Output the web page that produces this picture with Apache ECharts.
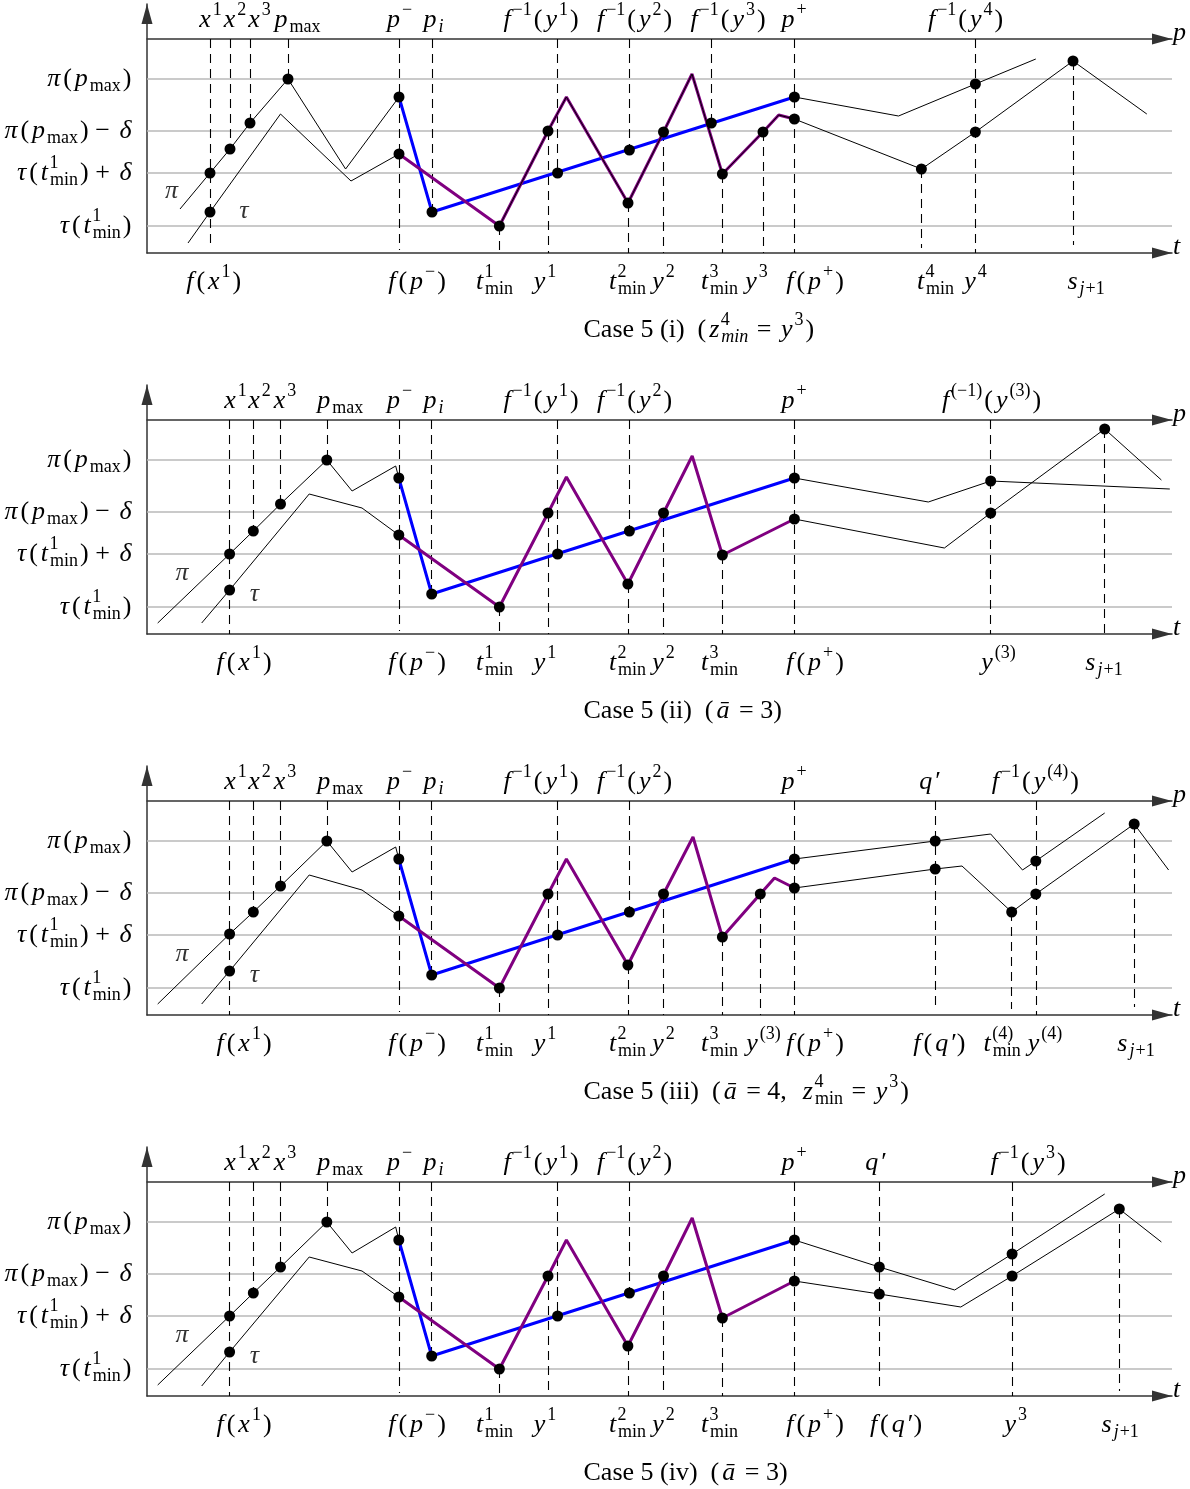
<!DOCTYPE html>
<html><head><meta charset="utf-8">
<script src="https://cdn.jsdelivr.net/npm/echarts@6/dist/echarts.min.js"></script>
<style>html,body{margin:0;padding:0;background:#fff}#c{width:1190px;height:1489px}</style>
</head><body><div id="c"></div>
<script>
// ---------- shared levels (height above the t axis) ----------
const levelValues = [27, 80, 122, 174];
const levelLabels = ['τ(t^{1}_{min})', 'τ(t^{1}_{min}) + δ', 'π(p_{max}) − δ', 'π(p_{max})'];
const pAxisLevel = 214;

// ---------- Case 5 (i) ----------
const piA1 = [[180,44],[210,80],[230,104],[250,130],[288,174],[345.6,84],[399,156]];
const blue1 = [[399,156],[432,41],[794.4,156]];
const piB1 = [[794.4,156],[898.5,137],[975.4,169],[1035.8,194]];
const tauA1 = [[188,10],[210,41],[280.5,139],[351,72],[399,99]];
const purple1 = [[399,99],[499.4,27],[548,122],[566.4,156],[628,50],[663.5,121],[692,179],[722.4,79],[763,121],[778.7,138],[794.4,134]];
const tauB1 = [[794.4,134],[921.4,84],[975.4,121],[1073,192],[1146.8,139]];
const dots1 = [[210,80],[230,104],[250,130],[288,174],[399,156],[794.4,156],[975.4,169],
  [210,41],[399,99],[499.4,27],[548,122],[628,50],[663.5,121],[722.4,79],[763,121],[794.4,134],[921.4,84],[975.4,121],[1073,192],
  [432,41],[557.6,80],[629.4,103],[711.3,130]];
const dash1 = [[210,214,8],[230,214,104],[250,214,130],[288,214,174],[399,214,3],[432,214,41],[499.4,27,0],[548,122,0],[557.6,214,80],[629.4,214,103],[628,50,0],[663.5,121,0],[711.3,214,130],[722.4,79,0],[763,121,0],[794.4,214,0],[921.4,84,5],[975.4,214,0],[1073,192,8]];
const topLab1 = ['x^{1}','x^{2}','x^{3}','p_{max}','p^{−}','p_{i}','f^{−1}(y^{1})','f^{−1}(y^{2})','f^{−1}(y^{3})','p^{+}','f^{−1}(y^{4})'];
const topPos1 = [210,234.5,259,297,399,433,541,634.6,728,793.5,965.6];
const botLab1 = ['f(x^{1})','f(p^{−})','t^{1}_{min}','y^{1}','t^{2}_{min}','y^{2}','t^{3}_{min}','y^{3}','f(p^{+})','t^{4}_{min}','y^{4}','s_{j+1}'];
const botPos1 = [213.7,417,494,544.4,627,663,719,756,815,935,975,1085.6];
const names1 = [['π',171.5,62],['τ',244,42]];
const caption1 = '{r|Case 5 (i)  (}{i|z}{supz|4}{subi|min}{r| = }{i|y}{sup|3}{r|)}';

// ---------- Case 5 (ii) ----------
const piA2 = [[157.7,11],[229.6,80],[253.3,103],[280.5,130],[326.8,174],[352.1,143],[395.7,168],[398.8,156]];
const blue2 = [[398.8,156],[431.7,40],[794.4,156]];
const piB2 = [[794.4,156],[928.3,132],[990.7,153],[1169.8,145]];
const tauA2 = [[201.7,11],[229.6,44],[309.2,140],[362,126],[398.8,99]];
const purple2 = [[398.8,99],[499.4,27],[548,121],[566.4,157],[627.9,50],[663.5,121],[692.2,178],[722.4,79],[794.4,115]];
const tauB2 = [[794.4,115],[944.4,86],[990.7,121],[1104.7,205],[1161.4,154]];
const dots2 = [[229.6,80],[253.3,103],[280.5,130],[326.8,174],[398.8,156],[794.4,156],[990.7,153],
  [229.6,44],[398.8,99],[499.4,27],[548,121],[627.9,50],[663.5,121],[722.4,79],[794.4,115],[990.7,121],[1104.7,205],
  [431.7,40],[557.6,80],[629.4,103]];
const dash2 = [[229.6,214,0],[253.3,214,103],[280.5,214,130],[326.8,214,174],[398.8,214,3],[431.7,214,40],[499.4,27,0],[548,121,0],[557.6,214,80],[629.4,214,103],[627.9,50,0],[663.5,121,0],[722.4,79,0],[794.4,214,0],[990.7,214,0],[1104.7,205,0]];
const topLab2 = ['x^{1}','x^{2}','x^{3}','p_{max}','p^{−}','p_{i}','f^{−1}(y^{1})','f^{−1}(y^{2})','p^{+}','f^{(−1)}(y^{(3)})'];
const topPos2 = [235,259,284.6,339.7,399,433,541,634.6,793.5,991.5];
const botLab2 = ['f(x^{1})','f(p^{−})','t^{1}_{min}','y^{1}','t^{2}_{min}','y^{2}','t^{3}_{min}','f(p^{+})','y^{(3)}','s_{j+1}'];
const botPos2 = [244,417,494,544.4,627,663,719,815,998,1103.5];
const names2 = [['π',182,61],['τ',254.5,40]];
const caption2 = '{r|Case 5 (ii)  (}{i|ā}{r| = 3)}';

// ---------- Case 5 (iii) ----------
const piA3 = [[157.7,11],[229.6,81],[253.3,103],[280.5,129],[326.8,174],[352.1,143],[395.7,168],[398.8,156]];
const blue3 = [[398.8,156],[431.7,40],[794.4,156]];
const piB3 = [[794.4,156],[935.2,174],[990.7,181],[1022.5,145],[1035.8,154],[1104.7,202]];
const tauA3 = [[201.7,11],[229.6,44],[309.2,140],[362,125],[398.8,99]];
const purple3 = [[398.8,99],[499.4,27],[548,121],[566.4,156],[627.9,50],[663.5,121],[693,178],[722.4,78],[760.3,121],[774.5,137],[794.4,127]];
const tauB3 = [[794.4,127],[935.2,146],[962,149],[1011.7,103],[1035.8,121],[1134.2,191],[1168.6,145]];
const dots3 = [[229.6,81],[253.3,103],[280.5,129],[326.8,174],[398.8,156],[794.4,156],[935.2,174],[1035.8,154],
  [229.6,44],[398.8,99],[499.4,27],[548,121],[627.9,50],[663.5,121],[722.4,78],[760.3,121],[794.4,127],[935.2,146],[1011.7,103],[1035.8,121],[1134.2,191],
  [431.7,40],[557.6,80],[629.4,103]];
const dash3 = [[229.6,214,0],[253.3,214,103],[280.5,214,129],[326.8,214,174],[398.8,214,3],[431.7,214,40],[499.4,27,0],[548,121,0],[557.6,214,80],[629.4,214,103],[627.9,50,0],[663.5,121,0],[722.4,78,0],[760.3,121,0],[794.4,214,0],[935.2,214,6],[1011.7,103,6],[1035.8,214,0],[1134.2,191,8]];
const topLab3 = ['x^{1}','x^{2}','x^{3}','p_{max}','p^{−}','p_{i}','f^{−1}(y^{1})','f^{−1}(y^{2})','p^{+}','q′','f^{−1}(y^{(4)})'];
const topPos3 = [235,259,284.6,339.7,399,433,541,634.6,793.5,930,1035.3];
const botLab3 = ['f(x^{1})','f(p^{−})','t^{1}_{min}','y^{1}','t^{2}_{min}','y^{2}','t^{3}_{min}','y^{(3)}','f(p^{+})','f(q′)','t^{(4)}_{min}','y^{(4)}','s_{j+1}'];
const botPos3 = [244,417,494,544.4,627,663,719,763,815,939.4,1001.7,1044.5,1135.5];
const names3 = [['π',182,61],['τ',254.5,40]];
const caption3 = '{r|Case 5 (iii)  (}{i|ā}{r| = 4,  }{i|z}{supz|4}{sub|min}{r| = }{i|y}{sup|3}{r|)}';

// ---------- Case 5 (iv) ----------
const piA4 = [[157.7,11],[229.6,80],[253.3,103],[280.5,129],[326.8,174],[352.1,143],[395.7,169],[398.8,156]];
const blue4 = [[398.8,156],[431.7,40],[794.4,156]];
const piB4 = [[794.4,156],[879.3,129],[954.7,106],[1012.1,142],[1104.7,202]];
const tauA4 = [[201.7,10],[229.6,44],[309.2,139],[362,125],[398.8,99]];
const purple4 = [[398.8,99],[499.4,27],[548,120],[566.4,156],[627.9,50],[663.5,120],[692.2,178],[722.4,78],[794.4,115]];
const tauB4 = [[794.4,115],[879.3,102],[960.8,89],[1012.1,120],[1119.3,187],[1161.4,154]];
const dots4 = [[229.6,80],[253.3,103],[280.5,129],[326.8,174],[398.8,156],[794.4,156],[879.3,129],[1012.1,142],
  [229.6,44],[398.8,99],[499.4,27],[548,120],[627.9,50],[663.5,120],[722.4,78],[794.4,115],[879.3,102],[1012.1,120],[1119.3,187],
  [431.7,40],[557.6,80],[629.4,103]];
const dash4 = [[229.6,214,0],[253.3,214,103],[280.5,214,129],[326.8,214,174],[398.8,214,3],[431.7,214,40],[499.4,27,0],[548,120,0],[557.6,214,80],[629.4,214,103],[627.9,50,0],[663.5,120,0],[722.4,78,0],[794.4,214,0],[879.3,214,5],[1012.1,214,0],[1119.3,187,5]];
const topLab4 = ['x^{1}','x^{2}','x^{3}','p_{max}','p^{−}','p_{i}','f^{−1}(y^{1})','f^{−1}(y^{2})','p^{+}','q′','f^{−1}(y^{3})'];
const topPos4 = [235,259,284.6,339.7,399,433,541,634.6,793.5,876,1028];
const botLab4 = ['f(x^{1})','f(p^{−})','t^{1}_{min}','y^{1}','t^{2}_{min}','y^{2}','t^{3}_{min}','f(p^{+})','f(q′)','y^{3}','s_{j+1}'];
const botPos4 = [244,417,494,544.4,627,663,719,815,896,1015.3,1119.7];
const names4 = [['π',182,61],['τ',254.5,40]];
const caption4 = '{r|Case 5 (iv)  (}{i|ā}{r| = 3)}';

// ---------- layout / style ----------
const panels = [
  {piA:piA1, blue:blue1, piB:piB1, tauA:tauA1, purple:purple1, tauB:tauB1, dots:dots1, dash:dash1, topLab:topLab1, topPos:topPos1, botLab:botLab1, botPos:botPos1, names:names1, caption:caption1, dark:true},
  {piA:piA2, blue:blue2, piB:piB2, tauA:tauA2, purple:purple2, tauB:tauB2, dots:dots2, dash:dash2, topLab:topLab2, topPos:topPos2, botLab:botLab2, botPos:botPos2, names:names2, caption:caption2, dark:false},
  {piA:piA3, blue:blue3, piB:piB3, tauA:tauA3, purple:purple3, tauB:tauB3, dots:dots3, dash:dash3, topLab:topLab3, topPos:topPos3, botLab:botLab3, botPos:botPos3, names:names3, caption:caption3, dark:false},
  {piA:piA4, blue:blue4, piB:piB4, tauA:tauA4, purple:purple4, tauB:tauB4, dots:dots4, dash:dash4, topLab:topLab4, topPos:topPos4, botLab:botLab4, botPos:botPos4, names:names4, caption:caption4, dark:false}
];
const panelBase = [253, 634, 1015, 1396];
const yMax = 249, xMin = 147, xMax = 1172;
const FONT = 'Liberation Serif';
const BIG = 26, SML = 18;
function tok(italic, size, extra) {
  return Object.assign({fontFamily: FONT, fontStyle: italic ? 'italic' : 'normal', fontWeight: 'normal',
    fontSize: size, color: '#000', align: 'left'}, extra || {});
}
const RICH = {
  i: tok(true, BIG, {padding: [0,1.5,0,1.5]}), r: tok(false, BIG, {padding: [0,1.5,0,1.5]}),
  sup: tok(false, SML, {padding: [0,0.5,19,0.5]}), supi: tok(true, SML, {padding: [0,0.5,19,0.5]}),
  supz: tok(false, SML, {padding: [0,0,19,0], width: 0}), supzi: tok(true, SML, {padding: [0,0,19,0], width: 0}),
  sub: tok(false, SML, {padding: [14,0.5,0,0.5]}), subi: tok(true, SML, {padding: [14,0.5,0,0.5]}),
  nm: tok(true, BIG, {padding: [0,0,12,0]})
};
const LETTER = /[A-Za-zα-ωπτδā]/;
function runs(text, it, ro, romanWords) {
  let res = '', k = 0;
  const isWord = j => romanWords && (text.startsWith('min', j) || text.startsWith('max', j));
  while (k < text.length) {
    if (isWord(k)) { res += '{' + ro + '|' + text.substr(k, 3) + '}'; k += 3; continue; }
    const st = LETTER.test(text[k]) ? it : ro;
    let j = k + 1;
    while (j < text.length && !isWord(j) && (LETTER.test(text[j]) ? it : ro) === st) j++;
    res += '{' + st + '|' + text.slice(k, j) + '}';
    k = j;
  }
  return res;
}
function M(s) {
  let out = '', buf = '', i = 0;
  const flush = () => { if (buf) { out += runs(buf, 'i', 'r', false); buf = ''; } };
  while (i < s.length) {
    const c = s[i];
    if ((c === '^' || c === '_') && s[i + 1] === '{') {
      flush();
      const end = s.indexOf('}', i);
      const content = s.slice(i + 2, end);
      i = end + 1;
      if (c === '^') out += (s[i] === '_') ? runs(content, 'supzi', 'supz', false) : runs(content, 'supi', 'sup', false);
      else out += runs(content, 'subi', 'sub', true);
      continue;
    }
    buf += c; i++;
  }
  flush();
  return out;
}
// tick label lookup; the axis ends carry empty sentinel labels
function pick(pos, labels, v) {
  if (v === xMin || v === xMax) return '';
  let b = 0;
  for (let j = 0; j < pos.length; j++) if (Math.abs(pos[j] - v) < Math.abs(pos[b] - v)) b = j;
  return M(labels[b]);
}
const axisLineStyle = {color: '#333', width: 1.5};
const arrow = {symbol: ['none', 'triangle'], symbolSize: [11, 20], symbolOffset: [0, -10]};
const nameStyle = {rich: RICH};
const labelBase = {rich: RICH, lineHeight: 40, color: '#000', showMinLabel: true, showMaxLabel: true, hideOverlap: false};

const grid = [], xAxis = [], yAxis = [], series = [], title = [];
panels.forEach((P, k) => {
  const T = panelBase[k];
  grid.push({left: xMin, width: xMax - xMin, top: T - yMax, height: yMax, outerBoundsMode: 'none'});
  xAxis.push({
    gridIndex: k, type: 'value', min: xMin, max: xMax, position: 'bottom',
    axisLine: Object.assign({show: true, onZero: false, lineStyle: axisLineStyle}, arrow),
    axisTick: {show: false}, splitLine: {show: false},
    name: '{nm|t}', nameLocation: 'end', nameGap: 1, nameTextStyle: nameStyle,
    axisLabel: Object.assign({customValues: [xMin].concat(P.botPos, [xMax]), formatter: v => pick(P.botPos, P.botLab, v), margin: 9}, labelBase)
  });
  xAxis.push({
    gridIndex: k, type: 'value', min: xMin, max: xMax, position: 'top', offset: -(yMax - pAxisLevel),
    axisLine: Object.assign({show: true, onZero: false, lineStyle: axisLineStyle}, arrow),
    axisTick: {show: false}, splitLine: {show: false},
    name: '{nm|p}', nameLocation: 'end', nameGap: 1, nameTextStyle: nameStyle,
    axisLabel: Object.assign({customValues: [xMin].concat(P.topPos, [xMax]), formatter: v => pick(P.topPos, P.topLab, v), margin: -1}, labelBase)
  });
  yAxis.push({
    gridIndex: k, type: 'value', min: 0, max: yMax,
    axisLine: Object.assign({show: true, onZero: false, lineStyle: axisLineStyle}, arrow),
    axisTick: {show: false}, splitLine: {show: false},
    axisLabel: Object.assign({customValues: levelValues, formatter: v => pick(levelValues, levelLabels, v), margin: 14}, labelBase)
  });
  const xi = 2 * k, yi = k;
  const base = {xAxisIndex: xi, yAxisIndex: yi, silent: true, animation: false};
  series.push(Object.assign({type: 'line', data: [], z: 1,
    markLine: {silent: true, z: 1, symbol: ['none', 'none'], label: {show: false},
      lineStyle: {color: '#b8b8b8', width: 1.5, type: 'solid'},
      data: levelValues.map(v => ({yAxis: v}))}}, base));
  series.push(Object.assign({type: 'lines', coordinateSystem: 'cartesian2d', z: 3,
    lineStyle: {color: '#000', width: 1.1, type: [9, 6], opacity: 1, curveness: 0},
    data: P.dash.map(d => ({coords: [[d[0], d[1]], [d[0], d[2]]]}))}, base));
  [P.piA, P.piB, P.tauA, P.tauB].forEach(d => series.push(Object.assign({type: 'line', data: d, symbol: 'none', z: 5,
    lineStyle: {color: '#000', width: 1}}, base)));
  series.push(Object.assign({type: 'line', data: P.blue, symbol: 'none', z: 6, lineStyle: {color: '#0000ff', width: 3}}, base));
  series.push(Object.assign({type: 'line', data: P.purple, symbol: 'none', z: 6, lineStyle: {color: '#800080', width: 3}}, base));
  if (P.dark) series.push(Object.assign({type: 'line', data: P.purple.slice(1), symbol: 'none', z: 7, lineStyle: {color: '#000', width: 1}}, base));
  series.push(Object.assign({type: 'scatter', data: P.dots, symbol: 'circle', symbolSize: 11, z: 10, itemStyle: {color: '#000', opacity: 1}}, base));
  series.push(Object.assign({type: 'scatter', symbolSize: 0, z: 11,
    data: P.names.map(n => ({name: n[0], value: [n[1], n[2]]})),
    label: {show: true, position: 'inside', formatter: p => '{i|' + p.name + '}', rich: RICH}}, base));
  title.push({text: P.caption, left: 582, top: T + 57, padding: 0, textStyle: {rich: RICH, lineHeight: 40, fontWeight: 'normal'}});
});

const chart = echarts.init(document.getElementById('c'), null, {renderer: 'canvas'});
chart.setOption({animation: false, backgroundColor: '#fff', title, grid, xAxis, yAxis, series});
</script></body></html>
